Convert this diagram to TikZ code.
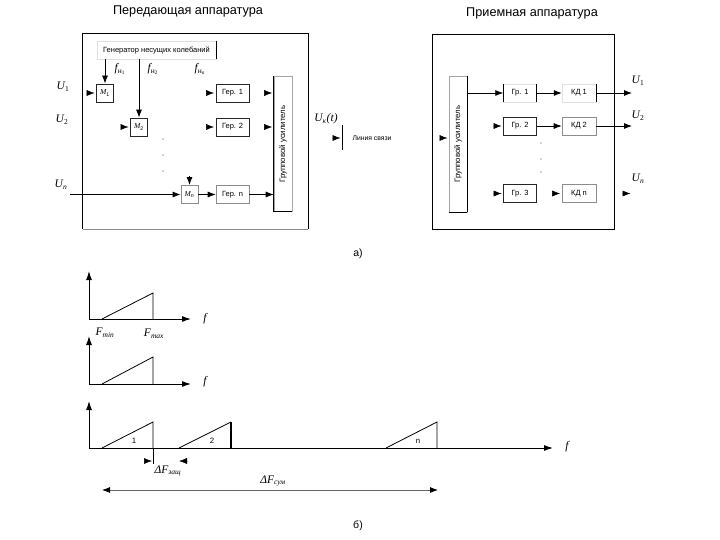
\documentclass[tikz,border=0pt]{standalone}
\usepackage{fontspec}
\setmainfont{Liberation Sans}
\newfontfamily\serifit[Ligatures=TeX]{Liberation Serif}
\usetikzlibrary{arrows.meta,calc}
\newcommand{\SubT}[1]{\textsubscript{\fontsize{7.5}{8}\selectfont #1}}
\tikzset{
  txt/.style={inner sep=0pt,font=\fontsize{7.8}{9}\selectfont},
  ttl/.style={inner sep=0pt,font=\fontsize{12.7}{14}\selectfont},
  sym/.style={inner sep=0pt,font=\serifit\itshape\fontsize{11.5}{13}\selectfont},
  blk/.style={draw=black!85,line width=0.8pt,minimum width=33pt,minimum height=18pt,inner sep=0pt,font=\fontsize{7.5}{8}\selectfont},
  pale/.style={blk,draw=black!45,line width=0.6pt},
  ghost/.style={blk,draw=black!12,line width=0.5pt},
  mod/.style={blk,minimum width=17pt},
  amp/.style={draw=black!35,line width=0.6pt,minimum width=18pt,minimum height=135pt,inner sep=0pt},
  frame/.style={draw=black,line width=0.9pt,inner sep=0pt},
  edge/.style={draw=black,line width=0.9pt},
  arr/.style={draw=black,line width=0.8pt,-{Latex[length=8pt,width=6pt]}},
  stub/.style={draw=black!25,line width=0.5pt,-{Latex[length=8pt,width=6pt,black]},shorten >=1.5pt},
  plain/.style={draw=black,line width=0.8pt},
  axis/.style={draw=black,line width=1pt,-{Latex[length=9pt,width=6pt]}},
  spec/.style={draw=black,line width=0.8pt},
  dotp/.style={circle,fill=black!35,minimum size=1.8pt,inner sep=0pt},
}
\begin{document}
\begin{tikzpicture}[x=1pt,y=-1pt]
\useasboundingbox (0,0) rectangle (720,540);
% titles
\node[ttl] (t1) at (188,11) {Передающая аппаратура};
\node[ttl] (t2) at (532,13) {Приемная аппаратура};
\node[ttl,font=\fontsize{10.5}{12}\selectfont] (ca) at (358,254) {а)};
\node[ttl,font=\fontsize{10.5}{12}\selectfont] (cb) at (358,526) {б)};
% transmitter frame
\node[frame,draw=none,minimum width=225pt,minimum height=195pt] (tx) at (195.5,131.5) {};
\draw[edge] (tx.south west) -- (tx.north west) -- (tx.north east) -- (tx.south east);
\draw[draw=black!45,line width=0.6pt] (tx.south west) -- (tx.south east);
% generator
\node[ghost,minimum width=119pt,minimum height=18pt,font=\fontsize{7.5}{8}\selectfont] (gen) at (156.5,50) {Генератор несущих колебаний};
\draw[edge] (gen.north east) -- (gen.south east);
\node[mod] (m1) at (105,93) {{\serifit\itshape M}\textsubscript{1}};
\node[mod] (m2) at (139,127) {{\serifit\itshape M}\textsubscript{2}};
\node[mod,draw=black!45] (mn) at (189.5,194.5) {{\serifit\itshape M}\textsubscript{\itshape n}};
\node[blk] (g1) at (232.5,93) {Гер. 1};
\node[blk] (g2) at (232.5,127) {Гер. 2};
\node[pale] (gn) at (232.5,194.5) {Гер. n};
\node[amp] (ga) at (283,143.5) {};
\draw[edge] (ga.north west) -- (ga.south west) -- (ga.south east);
\node[txt,rotate=90] (gat) at (283,144) {Групповой усилитель};
% inputs
\coordinate (i1) at (87,93);
\coordinate (i2) at (121,127);
\coordinate (in) at (70,194.5);
\coordinate (imn) at (189.5,176);
\coordinate (a1) at (207,93);
\coordinate (a2) at (207,127);
\coordinate (o1) at (265,93);
\coordinate (o2) at (265,127);
\coordinate (e1) at ($(ga.west |- o1)$);
\coordinate (e2) at ($(ga.west |- o2)$);
\coordinate (en) at ($(ga.west |- gn)$);
\draw[stub] (i1) -- (m1);
\draw[stub] (i2) -- (m2);
\draw[arr] (in) -- (mn);
\draw[arr,line width=1pt] (imn) -- (mn);
\draw[stub] (a1) -- (g1);
\draw[stub] (a2) -- (g2);
\draw[arr] (mn) -- (gn);
\draw[stub] (o1) -- (e1);
\draw[stub] (o2) -- (e2);
\draw[arr] (gn) -- (en);
\draw[arr] (gen.south -| m1) -- (m1);
\draw[arr] (gen.south -| m2) -- (m2);
\node[sym] (l1) at (63,87) {U\SubT{\upshape 1}};
\node[sym] (l2) at (62,120) {U\SubT{\upshape 2}};
\node[sym] (l3) at (61,185) {U\SubT{n}};
\node[sym] (f1) at (120,69) {f\SubT{\upshape н\textsubscript{1}}};
\node[sym] (f2) at (153,69) {f\SubT{\upshape н\textsubscript{2}}};
\node[sym] (f3) at (200,69) {f\SubT{\upshape н\textsubscript{\itshape n}}};
\node[dotp] (d1) at (163,139) {};
\node[dotp] (d2) at (163,155) {};
\node[dotp] (d3) at (163,171) {};
% line
\node[sym] (uk) at (326,119) {U\SubT{к}(t)};
\coordinate (lt) at (342,125);
\coordinate (lb) at (342,150);
\coordinate (lm) at (332,138);
\coordinate (lc) at (342,138);
\draw[plain] (lt) -- (lb);
\draw[stub] (lm) -- (lc);
\node[txt,font=\fontsize{6.8}{8}\selectfont] (ll) at (372,138) {Линия связи};
% receiver frame
\node[frame,minimum width=182pt,minimum height=195pt] (rx) at (523,131.5) {};
\node[amp,minimum height=136pt] (ra) at (458,144) {};
\draw[edge] (ra.south west) -- (ra.south east);
\draw[edge,line width=0.7pt] (ra.north east) -- (ra.south east);
\node[txt,rotate=90] (rat) at (458,144) {Групповой усилитель};
\node[ghost] (r1) at (520,93) {Гр. 1};
\draw[edge] (r1.north west) -- (r1.south west);
\draw[edge] (r1.north east) -- (r1.south east);
\node[blk] (r2) at (520,126) {Гр. 2};
\node[blk] (r3) at (520,193.5) {Гр. 3};
\node[ghost,minimum width=34pt] (k1) at (579,93) {КД 1};
\draw[edge] (k1.north east) -- (k1.south east);
\node[pale,minimum width=34pt] (k2) at (579,126) {КД 2};
\node[pale,minimum width=34pt] (k3) at (579,193.5) {КД n};
\coordinate (u1) at (632,93);
\coordinate (u2) at (632,126);
\coordinate (u3) at (632,193.5);
\coordinate (s2) at (493,126);
\coordinate (s3) at (493,193.5);
\coordinate (s4) at (552,193.5);
\coordinate (s5) at (632,193.5);
\coordinate (s5b) at (622,193.5);
\coordinate (s6) at (440,138);
\coordinate (s7) at (449,138);
\draw[arr] (ra.east |- r1) -- (r1);
\draw[arr] (r1) -- (k1);
\draw[arr] (k1) -- (u1);
\draw[stub] (s2) -- (r2);
\draw[arr] (r2) -- (k2);
\draw[arr] (k2) -- (u2);
\draw[stub] (s3) -- (r3);
\draw[stub] (s4) -- (k3);
\draw[stub] (s5b) -- (s5);
\draw[stub] (s6) -- (s7);
\node[sym] (ru1) at (638,81) {U\SubT{\upshape 1}};
\node[sym] (ru2) at (638,116) {U\SubT{\upshape 2}};
\node[sym] (ru3) at (638,179) {U\SubT{n}};
\node[dotp] (rd1) at (541,143) {};
\node[dotp] (rd2) at (541,159) {};
\node[dotp] (rd3) at (541,172) {};
% spectrum 1
\coordinate (o) at (89,319);
\coordinate (oy) at (89,271);
\coordinate (ox) at (191,319);
\draw[axis] (o) -- (oy);
\draw[axis] (o) -- (ox);
\coordinate (p1) at (102,319);
\coordinate (p2) at (153,293);
\coordinate (p3) at (153,319);
\draw[spec] (p1) -- (p2) -- (p3);
\node[sym] (fa) at (205,319) {f};
\node[sym] (fmin) at (105,333) {F\SubT{min}};
\node[sym] (fmax) at (154,334) {F\SubT{max}};
% spectrum 2
\coordinate (q) at (89,384);
\coordinate (qy) at (89,336);
\coordinate (qx) at (191,384);
\draw[axis] (q) -- (qy);
\draw[axis] (q) -- (qx);
\coordinate (q1) at (102,384);
\coordinate (q2) at (153,357);
\coordinate (q3) at (153,384);
\draw[spec] (q1) -- (q2) -- (q3);
\node[sym] (fb) at (205,382) {f};
% spectrum 3
\coordinate (w) at (89,448);
\coordinate (wy) at (89,401);
\coordinate (wx) at (553,448);
\draw[axis] (w) -- (wy);
\draw[axis] (w) -- (wx);
\coordinate (a) at (102,448);
\coordinate (b) at (153,422);
\coordinate (c) at (153,448);
\draw[spec] (a) -- (b) -- (c);
\coordinate (d) at (179,448);
\coordinate (e) at (231,422);
\coordinate (g) at (231,448);
\draw[spec] (d) -- (e);
\draw[spec,line width=1.3pt] (e) -- (g);
\coordinate (h) at (386,448);
\coordinate (j) at (437,422);
\coordinate (k) at (437,448);
\draw[spec] (h) -- (j) -- (k);
\node[txt] (n1) at (134,441) {1};
\node[txt] (n2) at (212,441) {2};
\node[txt] (n3) at (418,441) {n};
\node[sym] (fc) at (567,447) {f};
% gaps
\coordinate (cd) at (153,464);
\draw[plain] (c) -- (cd);
\coordinate (g1l) at (144,461);
\coordinate (g1r) at (152,461);
\coordinate (g2l) at (179,461);
\coordinate (g2r) at (187,461);
\draw[stub,shorten >=0pt] (g1l) -- (g1r);
\draw[stub,shorten >=0pt] (g2r) -- (g2l);
\node[sym] (dz) at (168,471) {ΔF\SubT{защ}};
\coordinate (sl) at (102,490);
\coordinate (sr) at (438,490);
\draw[draw=black!60,line width=0.8pt,{Latex[length=8pt,width=6pt,black]}-{Latex[length=8pt,width=6pt,black]}] (sl) -- (sr);
\node[sym] (ds) at (273,481) {ΔF\SubT{сум}};
\end{tikzpicture}
\end{document}
